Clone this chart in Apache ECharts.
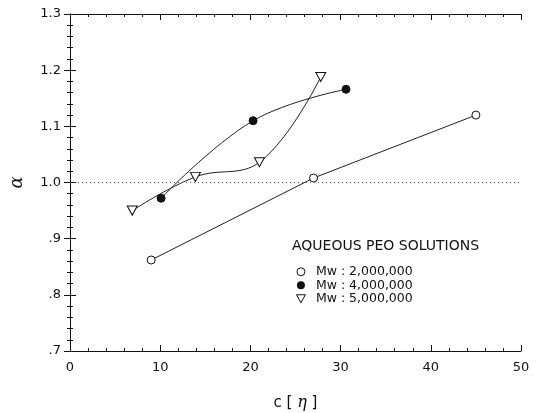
<!DOCTYPE html>
<html>
<head>
<meta charset="utf-8">
<script src="https://cdn.jsdelivr.net/npm/echarts@6/dist/echarts.min.js"></script>
<style>
  html, body { margin: 0; padding: 0; background: #fff; }
  #chart { width: 539px; height: 413px; }
</style>
</head>
<body>
<div id="chart"></div>
<script>
// data: [c[eta], alpha]
const mw2M = [[9, 0.862], [27, 1.008], [45, 1.12]]
const mw4M = [[10.1, 0.972], [20.3, 1.11], [30.6, 1.166]]
const mw5M = [[6.9, 0.95], [13.9, 1.01], [21, 1.036], [27.8, 1.188]]
const seriesNames = ['Mw : 2,000,000', 'Mw : 4,000,000', 'Mw : 5,000,000']
const legendTitle = 'AQUEOUS PEO SOLUTIONS'
const refLevel = 1.0

const downTri = 'path://M0,0 L10,0 L5,9 Z'
const font = 'DejaVu Sans, Liberation Sans, sans-serif'

const chart = echarts.init(document.getElementById('chart'))

// shared axis look: ticks pointing inward, minor ticks
const tickAxis = {
  axisLine: { show: true, lineStyle: { color: '#111', width: 1 } },
  axisTick: { show: true, inside: true, length: 6, lineStyle: { color: '#111' } },
  minorTick: { show: true, splitNumber: 5, length: 3, lineStyle: { color: '#111' } },
  splitLine: { show: false },
}

const option = {
  backgroundColor: '#fff',
  animation: false,
  grid: { left: 70, right: 18, top: 14, bottom: 62, outerBoundsMode: 'none' },
  title: {
    text: legendTitle,
    left: 287,
    top: 234,
    textStyle: { fontFamily: font, fontSize: 14, fontWeight: 'normal', color: '#111' },
  },
  legend: {
    orient: 'vertical',
    left: 291,
    top: 260,
    itemGap: 0,
    itemWidth: 10,
    itemHeight: 8,
    textStyle: { fontFamily: font, fontSize: 12.5, lineHeight: 13.5, color: '#111', padding: [0, 0, 0, 5] },
    data: [
      { name: seriesNames[0], icon: 'circle', itemStyle: { color: '#fff', borderColor: '#111', borderWidth: 1 } },
      { name: seriesNames[1], icon: 'circle', itemStyle: { color: '#111' } },
      { name: seriesNames[2], icon: downTri, itemStyle: { color: '#fff', borderColor: '#111', borderWidth: 1 } },
    ],
  },
  xAxis: [
    {
      ...tickAxis,
      type: 'value',
      position: 'bottom',
      min: 0,
      max: 50,
      interval: 10,
      name: 'c [ {eta|\u03b7} ]',
      nameLocation: 'middle',
      nameGap: 44,
      nameTextStyle: {
        fontFamily: font,
        fontSize: 15,
        color: '#111',
        rich: { eta: { fontFamily: 'DejaVu Serif, serif', fontStyle: 'italic', fontSize: 16, color: '#111' } },
      },
      axisLabel: { fontFamily: font, fontSize: 13, color: '#111', margin: 10 },
    },
    {
      ...tickAxis,
      type: 'value',
      position: 'top',
      min: 0,
      max: 50,
      interval: 10,
      axisLabel: { show: false },
    },
  ],
  yAxis: [
    {
      ...tickAxis,
      type: 'value',
      position: 'left',
      min: 0.7,
      max: 1.3,
      interval: 0.1,
      name: '\u03b1',
      nameLocation: 'middle',
      nameGap: 44,
      nameRotate: 90,
      nameTextStyle: { fontFamily: 'DejaVu Serif, serif', fontStyle: 'italic', fontSize: 18, color: '#111' },
      axisLabel: {
        fontFamily: font,
        fontSize: 13,
        color: '#111',
        margin: 9,
        formatter: v => v.toFixed(1).replace(/^0/, ''),
      },
    },
    {
      ...tickAxis,
      type: 'value',
      position: 'right',
      min: 0.7,
      max: 1.3,
      interval: 0.1,
      axisLabel: { show: false },
    },
  ],
  series: [
    {
      name: seriesNames[0],
      type: 'line',
      data: mw2M,
      symbol: 'circle',
      symbolSize: 8,
      lineStyle: { color: '#222', width: 1 },
      itemStyle: { color: '#fff', borderColor: '#111', borderWidth: 1 },
      markLine: {
        silent: true,
        symbol: 'none',
        label: { show: false },
        lineStyle: { color: '#555', type: [1, 3], width: 1 },
        data: [{ yAxis: refLevel }],
      },
      z: 3,
    },
    {
      name: seriesNames[1],
      type: 'line',
      data: mw4M,
      smooth: 0.4,
      symbol: 'circle',
      symbolSize: 8,
      lineStyle: { color: '#222', width: 1 },
      itemStyle: { color: '#111', borderColor: '#111' },
      z: 3,
    },
    {
      name: seriesNames[2],
      type: 'line',
      data: mw5M,
      smooth: 0.4,
      symbol: downTri,
      symbolSize: [10, 9],
      lineStyle: { color: '#222', width: 1 },
      itemStyle: { color: '#fff', borderColor: '#111', borderWidth: 1 },
      z: 3,
    },
  ],
}

chart.setOption(option)
</script>
</body>
</html>
